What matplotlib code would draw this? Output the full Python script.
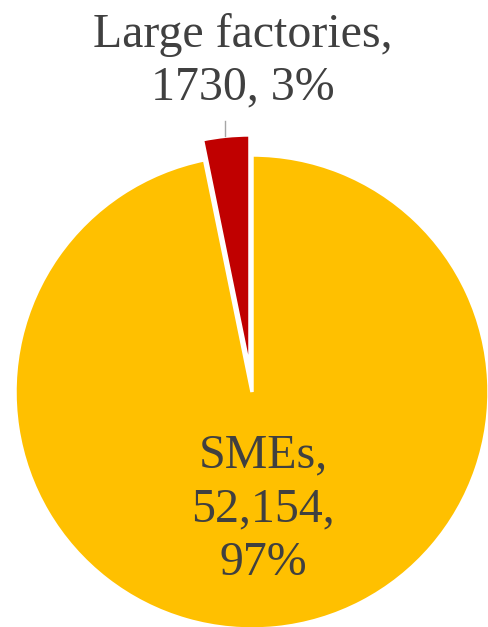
import matplotlib.pyplot as plt

labels = ['SMEs', 'Large factories']
counts = [52154, 1730]
count_text = ['52,154', '1730']
pct_text = ['97%', '3%']
colors = ['#FFC000', '#C00000']

plt.rcParams['font.family'] = ['Liberation Serif', 'DejaVu Serif']

fig = plt.figure(figsize=(4.88, 6.27), dpi=100)
ax = fig.add_axes([0, 0, 1, 1])

wedges, _ = ax.pie(counts, colors=colors, startangle=90, counterclock=False,
                   explode=[0, 0.085], radius=1,
                   wedgeprops=dict(edgecolor='white', linewidth=2.5))

# pixel-based limits so the pie sits like the reference
r = 237.0
ax.set_xlim(-252 / r, (488 - 252) / r)
ax.set_ylim(-(627 - 392) / r, 392 / r)
ax.set_aspect('equal')
ax.axis('off')

txt_color = '#404040'
ax.text(0.046, -0.495, f'{labels[0]},\n{count_text[0]},\n{pct_text[0]}',
        ha='center', va='center', fontsize=34.5, color=txt_color, linespacing=1.28)
ax.text(-0.038, 1.395, f'{labels[1]},\n{count_text[1]}, {pct_text[1]}',
        ha='center', va='center', fontsize=34.5, color=txt_color, linespacing=1.26)

# leader line
ax.plot([-0.114, -0.114], [1.145, 1.08], color='#A6A6A6', lw=1)

fig.savefig('out.png', dpi=100)
